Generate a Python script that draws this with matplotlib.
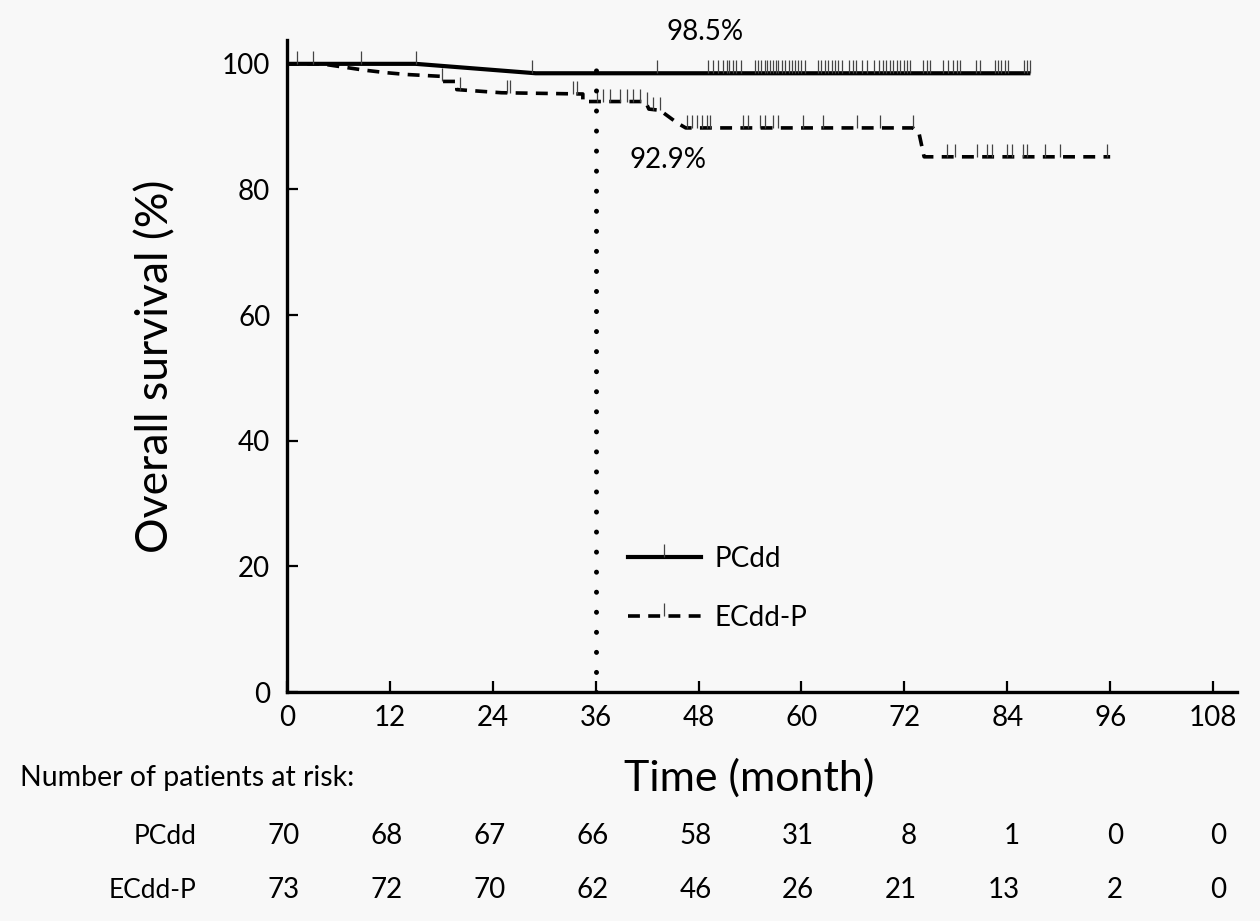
import numpy as np
import matplotlib
matplotlib.use('Agg')
import matplotlib.pyplot as plt
from matplotlib.lines import Line2D
from matplotlib.path import Path
import matplotlib.transforms as mtransforms

plt.rcParams['font.family'] = ['Lato', 'DejaVu Sans']

# survival curves (month, overall survival %)
pc_time = [0, 15, 29, 86.7]
pc_surv = [100, 100, 98.5, 98.5]
ec_time = [0, 4, 6.5, 9, 11.5, 14, 18.1, 18.1, 19.8, 19.8, 25, 34.5, 34.5,
           41.8, 42.2, 43.5, 45.5, 46.5, 73.0, 73.7, 74.3, 96]
ec_surv = [100, 100, 99.5, 99.0, 98.6, 98.3, 98.0, 97.2, 97.2, 95.9, 95.4, 95.2, 94.0,
           94.0, 92.8, 92.6, 90.6, 89.8, 89.8, 89.0, 85.2, 85.2]

# censored observations
pc_cens = [1.2, 3.0, 8.6, 15.0, 28.6, 43.2,
           49.1, 49.7, 50.3, 50.9, 51.3, 51.6, 52.0, 52.4, 53.0, 54.6, 54.9, 55.3,
           55.7, 56.0, 56.3, 56.7, 57.0, 57.3, 57.7, 58.1, 58.5, 58.9, 59.3, 59.6,
           60.0, 60.4, 61.9, 62.3, 62.7, 63.1, 63.5, 63.9, 64.3, 64.7, 65.5, 66.0,
           66.4, 67.0, 67.6, 68.4, 69.0, 69.5, 69.9, 70.3, 70.7, 71.1, 71.5, 71.9,
           72.3, 72.7, 74.2, 74.6, 75.0, 76.5, 77.1, 77.7, 78.1, 78.5, 80.4, 80.8,
           82.6, 82.9, 83.3, 83.7, 84.1, 85.9, 86.3, 86.7]
ec_cens = [18.1, 20.2, 25.7, 26.0, 33.4, 33.8, 36.2, 36.9, 37.7, 38.8, 39.7, 40.4,
           41.2, 42.0, 42.7, 43.5, 46.6, 47.2, 47.8, 48.4, 49.0, 49.3, 53.2, 53.8,
           55.2, 55.8, 56.7, 57.3, 60.2, 62.5, 66.5, 69.2, 73.0, 77.0, 77.9, 80.5,
           81.6, 82.2, 84.0, 84.6, 85.8, 86.3, 88.4, 90.2, 95.6]

landmark_month = 36
pc_label = '98.5%'
ec_label = '92.9%'

groups = ['PCdd', 'ECdd-P']
risk_months = [0, 12, 24, 36, 48, 60, 72, 84, 96, 108]
pc_risk = [70, 68, 67, 66, 58, 31, 8, 1, 0, 0]
ec_risk = [73, 72, 70, 62, 46, 26, 21, 13, 2, 0]

bg = '#f8f8f8'
fig = plt.figure(figsize=(12.6, 9.21), dpi=100, facecolor=bg)
ax = fig.add_axes([0.2278, 0.2486, 0.754, 0.708], facecolor=bg)

tick_marker = Path([(0, 0), (0, 1)])
dash = (3.3, 2.3)

ax.plot(pc_time, pc_surv, color='black', lw=3.0, solid_capstyle='butt')
ax.plot(ec_time, ec_surv, color='black', lw=2.6, dashes=dash)

ax.plot(pc_cens, np.interp(pc_cens, pc_time, pc_surv), ls='none', marker=tick_marker,
        ms=19, mec='#444444', mew=0.9, mfc='none')
ax.plot(ec_cens, np.interp(ec_cens, ec_time, ec_surv), ls='none', marker=tick_marker,
        ms=19, mec='#444444', mew=0.9, mfc='none')

ax.axvline(landmark_month, ymin=0, ymax=100.5 / 103.8, color='black', lw=3.6,
           dashes=(0.01, 4), dash_capstyle='round')

ax.text(48.75, 105.1, pc_label, ha='center', va='center', fontsize=20, clip_on=False)
ax.text(44.4, 84.7, ec_label, ha='center', va='center', fontsize=20)

handles = [Line2D([], [], color='black', lw=3.0, marker=tick_marker, ms=19,
                  mec='#444444', mew=0.9, mfc='none'),
           Line2D([], [], color='black', lw=2.6, dashes=dash, marker=tick_marker, ms=19,
                  mec='#444444', mew=0.9, mfc='none')]
ax.legend(handles, groups, loc='upper left', bbox_to_anchor=(39.8, 23.3),
          bbox_transform=ax.transData, frameon=False, fontsize=20, handlelength=2.6,
          handletextpad=0.5, labelspacing=1.2, borderpad=0, borderaxespad=0, numpoints=1)

ax.set_xlim(0, 110.8)
ax.set_ylim(0, 103.8)
ax.set_xticks(risk_months)
ax.set_yticks([0, 20, 40, 60, 80, 100])
ax.tick_params(direction='in', length=8, width=1.6, labelsize=20)
ax.tick_params(axis='y', pad=12)
ax.tick_params(axis='x', pad=9)
for s in ['top', 'right']:
    ax.spines[s].set_visible(False)
for s in ['left', 'bottom']:
    ax.spines[s].set_linewidth(2.4)

ax.set_ylabel('Overall survival (%)', fontsize=32, labelpad=33)

# risk table
fig.text(749 / 1260, 1 - 778 / 921, 'Time (month)', ha='center', va='center', fontsize=31)
fig.text(20 / 1260, 1 - 778 / 921, 'Number of patients at risk:', ha='left', va='center',
         fontsize=20.5)
trans = mtransforms.blended_transform_factory(ax.transData, fig.transFigure)
for row_y, name, counts in [(1 - 836 / 921, groups[0], pc_risk),
                            (1 - 890 / 921, groups[1], ec_risk)]:
    fig.text(196 / 1260, row_y, name, ha='right', va='center', fontsize=19)
    for m, n in zip(risk_months, counts):
        ax.text(m + 1.5, row_y, str(n), ha='right', va='center', fontsize=20,
                transform=trans, clip_on=False)

fig.savefig('out.png', dpi=100, facecolor=bg)
